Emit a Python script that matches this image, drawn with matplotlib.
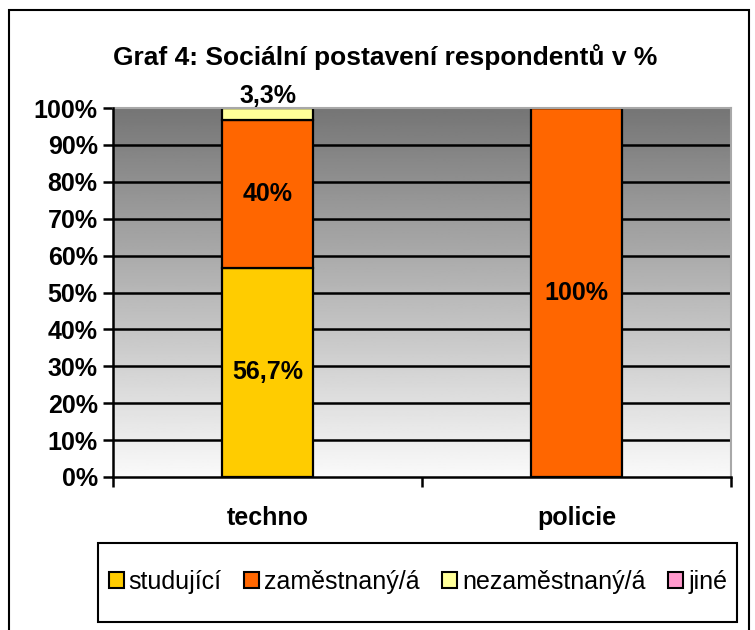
import numpy as np
import matplotlib.pyplot as plt
from matplotlib.patches import Rectangle

plt.rcParams['font.family'] = ['Liberation Sans', 'DejaVu Sans']

# data
groups = ['techno', 'policie']
series = ['studující', 'zaměstnaný/á', 'nezaměstnaný/á', 'jiné']
values = {
    'studující': [56.7, 0],
    'zaměstnaný/á': [40, 100],
    'nezaměstnaný/á': [3.3, 0],
    'jiné': [0, 0],
}
labels = {
    'studující': ['56,7%', ''],
    'zaměstnaný/á': ['40%', '100%'],
    'nezaměstnaný/á': ['3,3%', ''],
    'jiné': ['', ''],
}
colors = ['#FFCC00', '#FF6600', '#FFFF99', '#FF99CC']
yticks = list(range(0, 101, 10))

FS = 18

fig = plt.figure(figsize=(7.55, 6.3), dpi=100)
ax = fig.add_axes([113/755, 1-477/630, (731-113)/755, (477-108)/630])

# outer border
fig.patches.append(Rectangle((9/755, -0.02), (749-9)/755, 620/630 + 0.02,
                             transform=fig.transFigure, fill=False,
                             edgecolor='black', lw=1.5))
# legend box
fig.patches.append(Rectangle((98/755, 1-622/630), (737-98)/755, (622-543)/630,
                             transform=fig.transFigure, fill=False,
                             edgecolor='black', lw=1.5))

# gradient background
grad = np.linspace(0.98, 0.46, 256).reshape(-1, 1)
ax.imshow(grad, cmap='gray', vmin=0, vmax=1, aspect='auto',
          extent=[0, 2, 0, 100], origin='lower', zorder=0)

ax.set_xlim(0, 2)
ax.set_ylim(0, 100)
for y in yticks[1:-1]:
    ax.axhline(y, color='black', lw=1.8, zorder=1)

x = np.arange(len(groups)) + 0.5
width = 0.295
bottom = np.zeros(len(groups))
for s, c in zip(series, colors):
    v = np.array(values[s])
    ax.bar(x, v, width, bottom=bottom, color=c, edgecolor='black', lw=1.6,
           label=s, zorder=2)
    for i, (vi, lab) in enumerate(zip(v, labels[s])):
        if not lab:
            continue
        if s == 'nezaměstnaný/á':
            ax.text(x[i], bottom[i] + vi + 0.1, lab, ha='center', va='bottom',
                    fontsize=FS, fontweight='bold', zorder=3)
        else:
            ax.text(x[i], bottom[i] + vi / 2, lab, ha='center', va='center',
                    fontsize=FS, fontweight='bold', zorder=3)
    bottom += v

ax.set_yticks(yticks)
ax.set_yticklabels([f'{t}%' for t in yticks], fontsize=FS, fontweight='bold')
ax.set_xticks([0, 1, 2])
ax.set_xticklabels([])
ax.set_xticks(x, minor=True)
ax.set_xticklabels(groups, minor=True, fontsize=FS, fontweight='bold')
ax.tick_params(axis='x', which='minor', length=0, pad=21)
ax.tick_params(axis='x', which='major', length=7, width=1.8, direction='out')
ax.tick_params(axis='y', length=7, width=1.8, direction='out', pad=4)

for side in ['left', 'bottom']:
    ax.spines[side].set_linewidth(1.8)
    ax.spines[side].set_zorder(4)
for side in ['top', 'right']:
    ax.spines[side].set_color('#a8a8a8')
    ax.spines[side].set_linewidth(1.5)

fig.text(385/755, 1-57/630, 'Graf 4: Sociální postavení respondentů v %',
         ha='center', va='center', fontsize=19, fontweight='bold')

leg = fig.legend(loc='center', bbox_to_anchor=(418/755, 1-582/630), ncol=4,
                 fontsize=FS, frameon=False,
                 handlelength=0.6, handleheight=0.6, handletextpad=0.2,
                 columnspacing=0.9, borderpad=0, borderaxespad=0)
for h in leg.legend_handles:
    h.set_linewidth(1.5)

fig.savefig('out.png', dpi=100)
